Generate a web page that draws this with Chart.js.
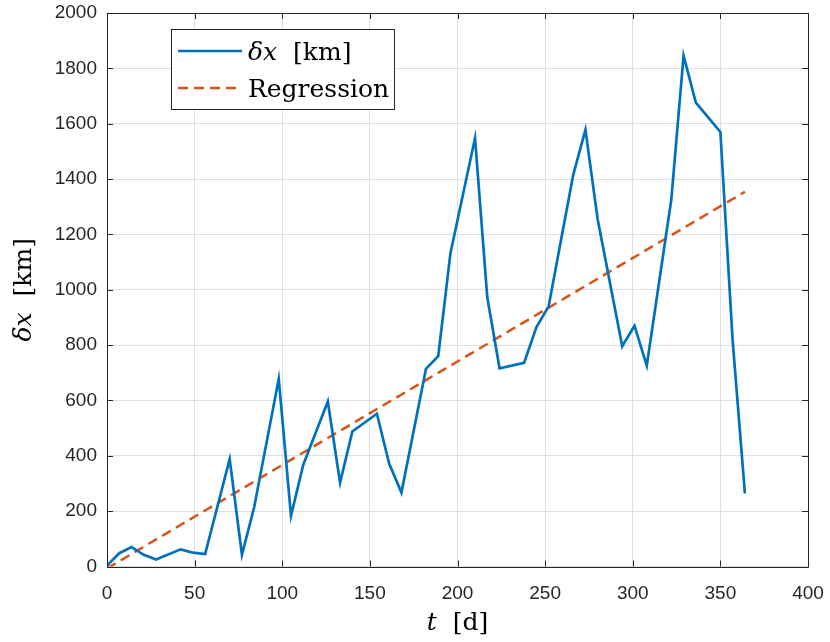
<!DOCTYPE html>
<html lang="en">
<head>
  <meta charset="UTF-8" />
  <title>delta x vs t</title>
  <script src="https://cdn.jsdelivr.net/npm/chart.js"></script>
  <style>
    html, body { margin: 0; padding: 0; background: #ffffff; }
  </style>
</head>
<body>
  <canvas id="chart" width="830" height="642"></canvas>

  <script>
    // values (days, km)
    const days   = [0, 7, 14, 21, 28, 42, 49, 56, 70, 77, 84, 98, 105, 112, 126, 133, 140, 154,
                    161, 168, 182, 189, 196, 210, 217, 224, 238, 245, 252, 266, 273, 280, 294,
                    301, 308, 322, 329, 336, 350, 357, 364];
    const deltaX = [3, 48, 70, 42, 25, 62, 50, 45, 388, 42, 215, 678, 183, 368, 596, 303, 488, 552,
                    372, 267, 714, 760, 1133, 1548, 972, 716, 736, 864, 940, 1414, 1578, 1254, 796,
                    870, 726, 1326, 1846, 1676, 1570, 816, 264];
    const regDays = [0, 364];
    const regVals = [-7, 1354];
    const xTicks = [0, 50, 100, 150, 200, 250, 300, 350, 400];
    const yTicks = [0, 200, 400, 600, 800, 1000, 1200, 1400, 1600, 1800, 2000];

    const BLUE = '#0072BD';
    const ORANGE = '#D95319';
    const AXIS = '#262626';
    const SERIF = '"DejaVu Serif", serif';
    const SANS = '"Liberation Sans", Arial, sans-serif';

    // frame on top + inward ticks, MATLAB style
    const framePlugin = {
      id: 'frame',
      afterDatasetsDraw(chart) {
        const { ctx, chartArea: a, scales } = chart;
        ctx.save();
        ctx.strokeStyle = AXIS;
        ctx.lineWidth = 1;
        ctx.beginPath();
        ctx.rect(Math.round(a.left) + 0.5, Math.round(a.top) + 0.5,
                 Math.round(a.right - a.left), Math.round(a.bottom - a.top));
        ctx.stroke();
        const len = 6;
        ctx.beginPath();
        xTicks.forEach(v => {
          const x = Math.round(scales.x.getPixelForValue(v)) + 0.5;
          ctx.moveTo(x, a.bottom); ctx.lineTo(x, a.bottom - len);
          ctx.moveTo(x, a.top); ctx.lineTo(x, a.top + len);
        });
        yTicks.forEach(v => {
          const y = Math.round(scales.y.getPixelForValue(v)) + 0.5;
          ctx.moveTo(a.left, y); ctx.lineTo(a.left + len, y);
          ctx.moveTo(a.right, y); ctx.lineTo(a.right - len, y);
        });
        ctx.stroke();
        ctx.restore();
      },
      afterDraw(chart) {
        const { ctx, chartArea: a } = chart;
        ctx.save();
        ctx.fillStyle = '#000';
        ctx.textBaseline = 'alphabetic';

        // x title: t [d]
        const cx = (a.left + a.right) / 2;
        ctx.font = 'italic 25px ' + SERIF;
        const wT = ctx.measureText('t').width;
        ctx.font = '25px ' + SERIF;
        const wR = ctx.measureText('  [d]').width;
        let x0 = cx - (wT + wR) / 2;
        ctx.font = 'italic 25px ' + SERIF;
        ctx.fillText('t', x0, 630);
        ctx.font = '25px ' + SERIF;
        ctx.fillText('  [d]', x0 + wT, 630);

        // y title: δx [km]
        ctx.save();
        ctx.translate(31, (a.top + a.bottom) / 2);
        ctx.rotate(-Math.PI / 2);
        ctx.font = 'italic 25px ' + SERIF;
        const wD = ctx.measureText('δx').width;
        ctx.font = '25px ' + SERIF;
        const wK = ctx.measureText('  [km]').width;
        x0 = -(wD + wK) / 2;
        ctx.font = 'italic 25px ' + SERIF;
        ctx.fillText('δx', x0, 0);
        ctx.font = '25px ' + SERIF;
        ctx.fillText('  [km]', x0 + wD, 0);
        ctx.restore();

        // legend box inside the axes
        const bx = 171.5, by = 29.5, bw = 223, bh = 80;
        ctx.fillStyle = '#ffffff';
        ctx.fillRect(bx, by, bw, bh);
        ctx.strokeStyle = AXIS;
        ctx.lineWidth = 1;
        ctx.strokeRect(bx, by, bw, bh);

        const ds = chart.data.datasets;
        const rows = [51, 88];
        ds.forEach((d, i) => {
          const y = rows[i];
          ctx.save();
          ctx.strokeStyle = d.borderColor;
          ctx.lineWidth = d.borderWidth;
          ctx.setLineDash(d.borderDash || []);
          ctx.beginPath();
          ctx.moveTo(178, y); ctx.lineTo(242, y);
          ctx.stroke();
          ctx.restore();
          ctx.fillStyle = '#000';
          if (i === 0) {
            ctx.font = 'italic 25px ' + SERIF;
            ctx.fillText('δx', 248, y + 9);
            const w = ctx.measureText('δx').width;
            ctx.font = '25px ' + SERIF;
            ctx.fillText('  [km]', 248 + w, y + 9);
          } else {
            ctx.font = '25px ' + SERIF;
            ctx.fillText(d.label, 248, y + 9);
          }
        });
        ctx.restore();
      }
    };

    const ctx = document.getElementById('chart').getContext('2d');
    new Chart(ctx, {
      type: 'line',
      data: {
        datasets: [
          {
            label: 'δx [km]',
            data: days.map((t, i) => ({ x: t, y: deltaX[i] })),
            borderColor: BLUE,
            borderWidth: 2.7,
            pointRadius: 0,
            fill: false,
            tension: 0
          },
          {
            label: 'Regression',
            data: regDays.map((t, i) => ({ x: t, y: regVals[i] })),
            borderColor: ORANGE,
            borderWidth: 2.5,
            borderDash: [10, 6],
            pointRadius: 0,
            fill: false,
            tension: 0
          }
        ]
      },
      options: {
        responsive: false,
        animation: false,
        devicePixelRatio: 1,
        layout: { padding: { left: 0, top: 13, right: 22, bottom: 0 } },
        plugins: {
          legend: { display: false },
          tooltip: { enabled: false }
        },
        scales: {
          x: {
            type: 'linear',
            min: 0, max: 400,
            afterFit: s => { s.height = 75.5; s.paddingLeft = 0; s.paddingRight = 0; },
            afterBuildTicks: s => { s.ticks = xTicks.map(v => ({ value: v })); },
            grid: { color: '#dfdfdf', drawTicks: false },
            border: { display: false },
            ticks: {
              padding: 16,
              color: AXIS,
              maxRotation: 0,
              callback: v => String(v),
              font: { family: SANS, size: 19 }
            }
          },
          y: {
            min: 0, max: 2000,
            afterFit: s => { s.width = 107; s.paddingTop = 0; s.paddingBottom = 0; },
            afterBuildTicks: s => { s.ticks = yTicks.map(v => ({ value: v })); },
            grid: { color: '#dfdfdf', drawTicks: false },
            border: { display: false },
            ticks: {
              padding: 10,
              color: AXIS,
              callback: v => String(v),
              font: { family: SANS, size: 19 }
            }
          }
        }
      },
      plugins: [framePlugin]
    });
  </script>
</body>
</html>
